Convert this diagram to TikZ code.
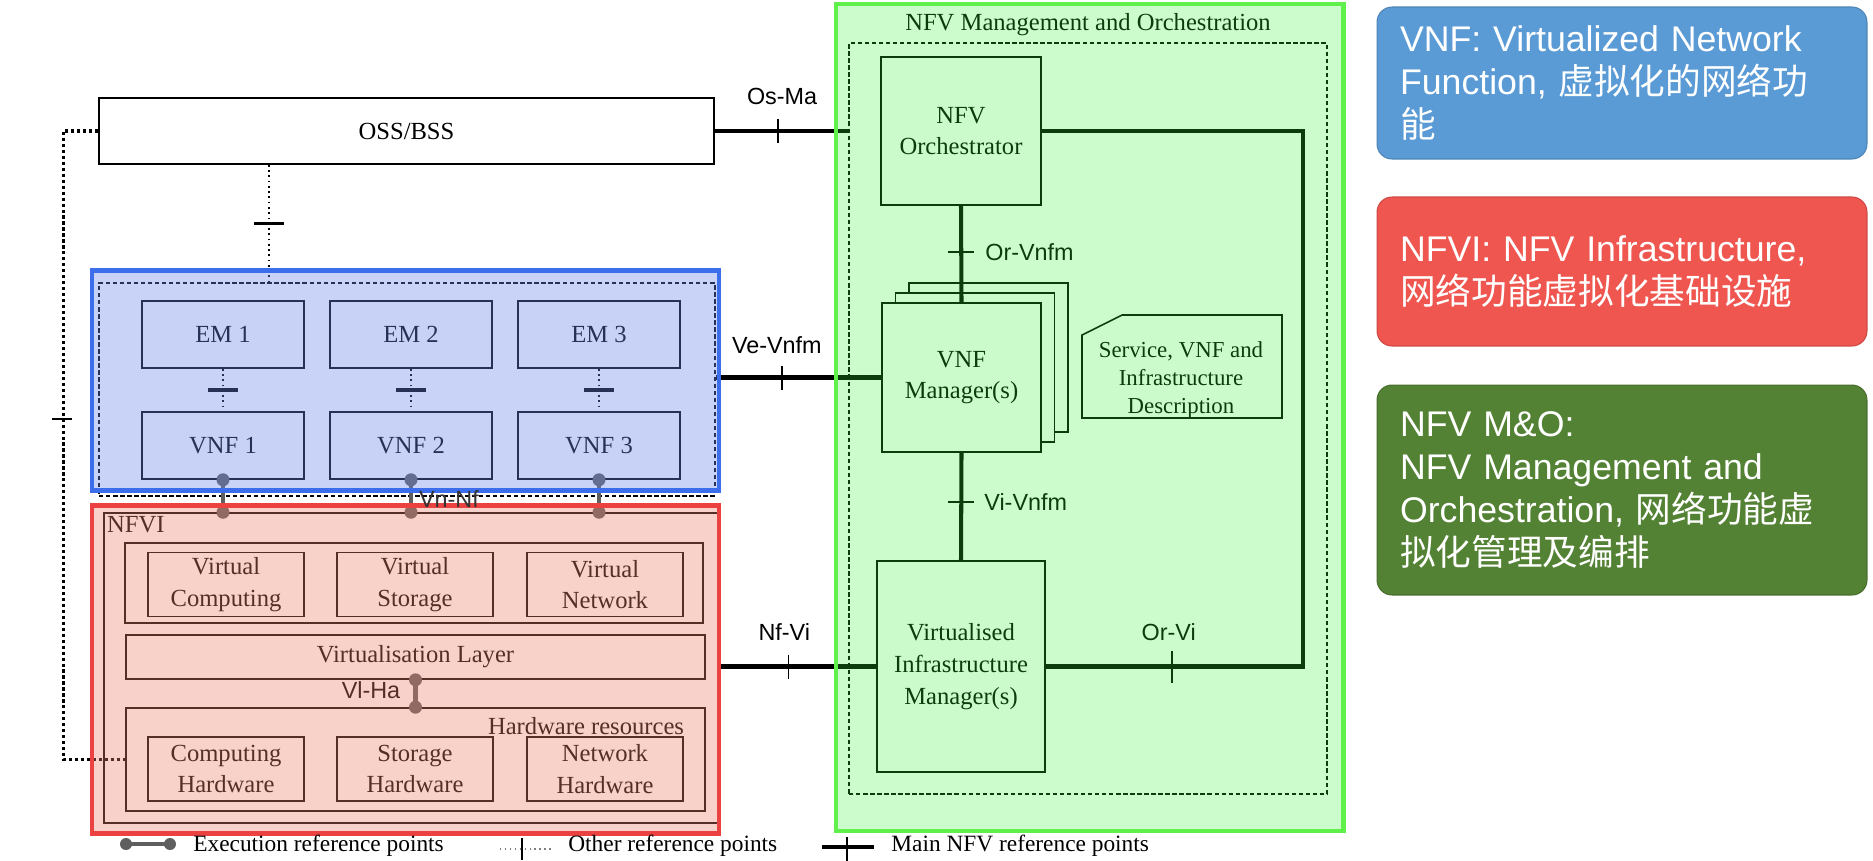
\documentclass[tikz,border=0pt]{standalone}
\usepackage{fontspec}
\setmainfont{Liberation Serif}
\setsansfont{Liberation Sans}
\newfontfamily\cjk{Noto Sans CJK SC}
\usetikzlibrary{calc}

\definecolor{vnfov}{RGB}{108,135,235}
\definecolor{vnfedge}{RGB}{60,110,235}
\definecolor{nfviov}{RGB}{236,130,108}
\definecolor{nfviedge}{RGB}{235,65,65}
\definecolor{manoov}{RGB}{51,243,51}
\definecolor{manoedge}{RGB}{95,240,75}
\definecolor{execgray}{RGB}{95,95,95}
\definecolor{notevnf}{RGB}{91,155,213}
\definecolor{notenfvi}{RGB}{240,86,80}
\definecolor{notemano}{RGB}{84,130,53}

\tikzset{
  fbox/.style={draw, fill=white, line width=0.9pt, inner sep=0pt, align=center,
    font=\fontsize{14}{18}\selectfont},
  lbl/.style={inner sep=1pt, font=\fontsize{14}{18}\selectfont},
  refpt/.style={inner sep=1pt, font=\sffamily\fontsize{13.3}{15}\selectfont},
  legend/.style={anchor=west, inner sep=0pt, font=\fontsize{13.3}{15}\selectfont},
  mainref/.style={line width=2.3pt},
  maintick/.style={line width=0.9pt},
  otherref/.style={dotted, line width=1pt},
  othertick/.style={line width=1.8pt},
  looprf/.style={line width=1.8pt, dash pattern=on 1.8pt off 1.6pt},
  execref/.style={execgray, line width=2.3pt},
  dashbox/.style={draw, dash pattern=on 2.5pt off 1.5pt, line width=0.8pt, inner sep=0pt},
  region/.style={inner sep=0pt},
  note/.style={rounded corners=0.3cm, line width=0.6pt, text=white, align=left,
    inner xsep=0.46cm, inner ysep=0pt, text width=8.88cm,
    font=\sffamily\fontsize{20.3}{24.5}\selectfont}
}

\begin{document}
\begin{tikzpicture}[x=0.02cm, y=-0.02cm]
\useasboundingbox (0,0) rectangle (1873,860);

% 1. regions (overlays are filled at the end)
\node[region, minimum width=12.54cm, minimum height=4.38cm] (vnfreg) at (405.5,380.5) {};
\node[region, minimum width=12.54cm, minimum height=6.54cm] (nfvireg) at (405.5,669.5) {};
\node[region, minimum width=10.14cm, minimum height=16.54cm] (manoreg) at (1089.5,417.5) {};

% 2. OSS/BSS and the VNF layer
\node[fbox, minimum width=12.3cm, minimum height=1.32cm] (oss) at (406.5,131) {OSS/BSS};
\node[dashbox, minimum width=12.32cm, minimum height=4.26cm] (vnfdash) at (407,389.5) {};
\foreach \i/\x in {1/223, 2/411, 3/599} {
  \node[fbox, minimum width=3.24cm, minimum height=1.34cm] (em\i) at (\x,334.5) {EM \i};
  \node[fbox, minimum width=3.24cm, minimum height=1.34cm] (vnf\i) at (\x,445.5) {VNF \i};
  \draw[otherref] (em\i.south) -- coordinate (t\i) (vnf\i.north);
  \draw[othertick] (t\i) +(-15,0) -- +(15,0);
}
\coordinate (od) at ($(oss.south west)+(171,0)$);
\draw[otherref] (od) -- coordinate (odt) (od |- vnfdash.north);
\draw[othertick] (odt) +(-15,0) -- +(15,0);

% 3. NFVI
\node[draw, line width=0.9pt, inner sep=0pt, minimum width=12.28cm, minimum height=6.2cm] (nfvi) at (411,668) {};
\node[lbl, anchor=west] (nfvilbl) at (105,525) {NFVI};
\node[fbox, minimum width=11.56cm, minimum height=1.6cm] (vrow) at (414,583) {};
\node[fbox, minimum width=3.12cm, minimum height=1.28cm] (vcomp) at (226,584.5) {Virtual\\Computing};
\node[fbox, minimum width=3.12cm, minimum height=1.28cm] (vstor) at (415,584.5) {Virtual\\Storage};
\node[fbox, minimum width=3.12cm, minimum height=1.28cm] (vnet) at (605,584.5) {Virtual\\Network};
\node[fbox, minimum width=11.58cm, minimum height=0.88cm] (vlayer) at (415.5,657) {Virtualisation Layer};
\node[fbox, minimum width=11.58cm, minimum height=2.06cm] (hwres) at (415.5,759.5) {};
\node[lbl] (hwlbl) at (586,726) {Hardware resources};
\node[fbox, minimum width=3.12cm, minimum height=1.28cm] (chw) at (226,769) {Computing\\Hardware};
\node[fbox, minimum width=3.12cm, minimum height=1.28cm] (shw) at (415,769) {Storage\\Hardware};
\node[fbox, minimum width=3.12cm, minimum height=1.28cm] (nhw) at (605,769) {Network\\Hardware};

% 4. execution reference points
\foreach \i in {1,2,3} {
  \draw[execref] (vnf\i.south) -- (vnf\i.south |- nfvi.north);
  \fill[execgray] (vnf\i.south) circle (0.13cm) (vnf\i.south |- nfvi.north) circle (0.13cm);
}
\draw[execref] (vlayer.south) -- (hwres.north);
\fill[execgray] (vlayer.south) circle (0.13cm) (hwres.north) circle (0.13cm);
\node[refpt] (vlha) at (371,690) {Vl-Ha};

% 5. OSS loop to the hardware
\draw[looprf] (oss.west) -- ++(-35,0) coordinate (lc) |- (hwres.west);
\draw[maintick] ($(lc)+(-11,288)$) -- ++(20,0);

% 6. MANO
\node[dashbox, minimum width=9.56cm, minimum height=15.02cm] (mano) at (1088,418.5) {};
\node[lbl] (manolbl) at (1088,25) {NFV Management and Orchestration};
\node[fbox, minimum width=3.2cm, minimum height=2.96cm] (orch) at (961,131) {NFV\\Orchestrator};
\node[fbox, minimum width=3.18cm, minimum height=2.98cm] (vnfm3) at (988.5,357.5) {};
\node[fbox, minimum width=3.18cm, minimum height=2.98cm] (vnfm2) at (975,367.5) {};
\node[fbox, minimum width=3.18cm, minimum height=2.98cm] (vnfm) at (961.5,377.5) {VNF\\Manager(s)};
\draw[line width=0.9pt, fill=white] (1082,335) -- (1122,315) -- (1282,315) -- (1282,418) -- (1082,418) -- cycle;
\node[align=center, inner sep=0pt, font=\fontsize{13}{15.9}\selectfont] (desc) at (1181,380) {Service, VNF and\\Infrastructure\\Description};
\node[fbox, minimum width=3.36cm, minimum height=4.22cm] (vim) at (961,666.5) {Virtualised\\Infrastructure\\Manager(s)};

% 7. main NFV reference points
\draw[mainref] (oss.east) -- coordinate[pos=0.474] (osma) (oss.east -| mano.west);
\draw[maintick] (osma) +(0,-12) -- +(0,12);
\node[refpt] (osmalbl) at ($(osma)+(4,-35)$) {Os-Ma};

\draw[mainref] (vnfm.west -| vnfdash.east) -- coordinate[pos=0.4] (vevnfm) (vnfm.west);
\draw[maintick] (vevnfm) +(0,-12) -- +(0,12);
\node[refpt] (vevnfmlbl) at ($(vevnfm)+(-5,-32)$) {Ve-Vnfm};

\draw[mainref] (vim.west -| nfvireg.east) -- coordinate[pos=0.44] (nfvi2) (vim.west);
\draw[maintick] (nfvi2) +(0,-12) -- +(0,12);
\node[refpt] (nfvilbl2) at ($(nfvi2)+(-4,-34)$) {Nf-Vi};

\draw[mainref] (orch.south) -- coordinate[pos=0.48] (orvnfm) (vnfm.north);
\draw[maintick] (orvnfm) +(-13,0) -- +(13,0);
\node[refpt, anchor=west] (orvnfmlbl) at ($(orvnfm)+(22,0)$) {Or-Vnfm};

\draw[mainref] (vnfm.south) -- coordinate[pos=0.46] (vivnfm) (vim.north);
\draw[maintick] (vivnfm) +(-13,0) -- +(13,0);
\node[refpt, anchor=west] (vivnfmlbl) at ($(vivnfm)+(21,0)$) {Vi-Vnfm};

\coordinate (turn) at ($(orch.east)+(261,0)$);
\draw[mainref] (vim.east) -- coordinate[pos=0.49] (orvi) (vim.east -| turn) -- (turn) -- (orch.east);
\draw[maintick] (orvi) +(0,-16) -- +(0,16);
\node[refpt] (orvilbl) at ($(orvi)+(-3,-34)$) {Or-Vi};

% 8. coloured overlays and borders
\fill[vnfov, fill opacity=0.37] (vnfreg.south west) rectangle (vnfreg.north east);
\fill[nfviov, fill opacity=0.36] (nfvireg.south west) rectangle (nfvireg.north east);
\fill[manoov, fill opacity=0.25] (manoreg.south west) rectangle (manoreg.north east);
\draw[vnfedge, line width=2.5pt] (vnfreg.south west) rectangle (vnfreg.north east);
\draw[nfviedge, line width=2.5pt] (nfvireg.south west) rectangle (nfvireg.north east);
\draw[manoedge, line width=2.5pt] (manoreg.south west) rectangle (manoreg.north east);
\node[refpt, text=black!80] (vnnf) at (449,499) {Vn-Nf};

% 9. legend
\coordinate (lg1) at (126,844);
\draw[execref] (lg1) -- ++(44,0) coordinate (lg2);
\fill[execgray] (lg1) circle (0.12cm) (lg2) circle (0.12cm);
\node[legend] (lgexec) at (193,846) {Execution reference points};
\coordinate (lg3) at (500,849);
\draw[gray, dotted, line width=0.8pt] (lg3) -- ++(52,0);
\draw[line width=0.6pt] ($(lg3)+(22,-11)$) -- ++(0,22);
\node[legend] (lgother) at (568,846) {Other reference points};
\coordinate (lg4) at (822,847);
\draw[mainref] (lg4) -- ++(52,0);
\draw[line width=1.2pt] ($(lg4)+(25,-10)$) -- ++(0,24);
\node[legend] (lgmain) at (891,846) {Main NFV reference points};

% 10. notes on the right
\node[note, fill=notevnf, draw=notevnf!85!black, minimum height=3.04cm] (nvnf) at (1622,83)
  {VNF: Virtualized Network\\Function, {\cjk 虚拟化的网络功}\\{\cjk 能}};
\node[note, fill=notenfvi, draw=notenfvi!85!black, minimum height=2.98cm] (nnfvi) at (1622,271.5)
  {NFVI: NFV Infrastructure,\\{\cjk 网络功能虚拟化基础设施}};
\node[note, fill=notemano, draw=notemano!85!black, minimum height=4.2cm] (nmano) at (1622,490)
  {NFV M\&O:\\NFV Management and\\Orchestration, {\cjk 网络功能虚}\\{\cjk 拟化管理及编排}};
\end{tikzpicture}
\end{document}
